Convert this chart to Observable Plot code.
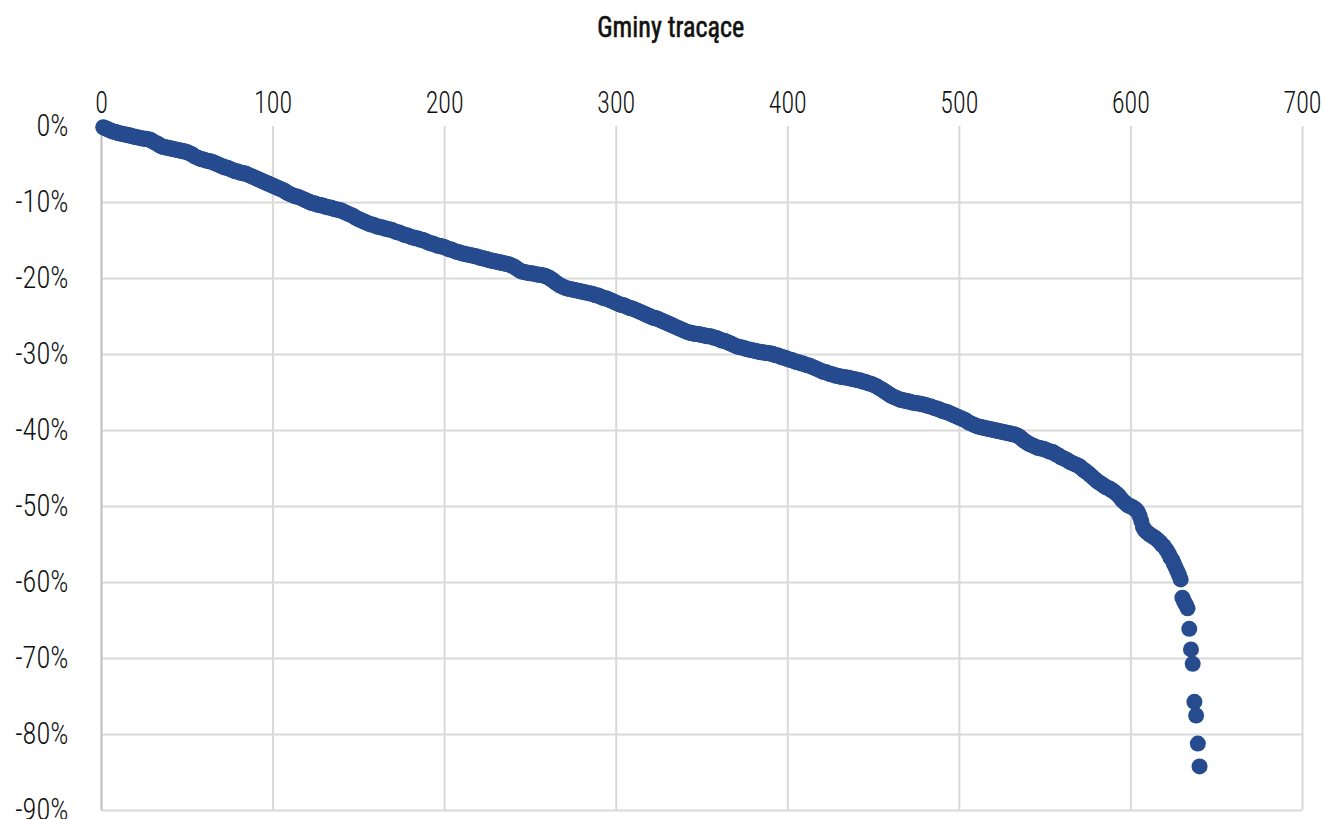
<!DOCTYPE html>
<html>
<head>
<meta charset="utf-8">
<script src="https://cdn.jsdelivr.net/npm/d3@7"></script>
<script src="https://cdn.jsdelivr.net/npm/@observablehq/plot@0.6"></script>
<style>
  html, body { margin: 0; padding: 0; background: #fff; }
  #head { position: relative; width: 1325px; height: 60px; }
  #title {
    position: absolute; left: 0; top: 13px; width: 1342px; text-align: center;
    font-family: "Roboto Condensed", Roboto, "Liberation Sans", sans-serif;
    font-size: 29px; line-height: 29px; color: #111; font-weight: 400;
    -webkit-text-stroke: 0.6px #111;
    white-space: nowrap;
  }
  #title span { display: inline-block; transform: scaleX(0.9); transform-origin: 50% 50%; }
  #chart svg { display: block; }
</style>
</head>
<body>
<div id="head"><div id="title"><span>Gminy tracące</span></div></div>
<div id="chart"></div>
<script>
const xTicks = [0, 100, 200, 300, 400, 500, 600, 700];
const yTicks = [0, -10, -20, -30, -40, -50, -60, -70, -80, -90];
// Percentage change, gminas sorted from smallest to largest loss (rank 1..640)
const losses = [
  -0.1,-0.2,-0.3,-0.4,-0.5,-0.6,-0.7,-0.7,-0.8,-0.9,
  -0.9,-1.0,-1.0,-1.1,-1.1,-1.2,-1.2,-1.3,-1.3,-1.4,
  -1.4,-1.5,-1.5,-1.6,-1.6,-1.6,-1.7,-1.7,-1.8,-2.0,
  -2.1,-2.2,-2.3,-2.5,-2.6,-2.7,-2.7,-2.8,-2.8,-2.9,
  -2.9,-3.0,-3.0,-3.1,-3.1,-3.2,-3.2,-3.3,-3.3,-3.4,
  -3.5,-3.6,-3.7,-3.9,-4.0,-4.1,-4.2,-4.3,-4.3,-4.4,
  -4.5,-4.5,-4.6,-4.6,-4.7,-4.8,-4.9,-5.0,-5.1,-5.2,
  -5.3,-5.4,-5.4,-5.5,-5.6,-5.7,-5.8,-5.9,-5.9,-6.0,
  -6.1,-6.1,-6.2,-6.2,-6.3,-6.4,-6.5,-6.6,-6.7,-6.8,
  -6.9,-7.0,-7.1,-7.2,-7.3,-7.4,-7.5,-7.6,-7.7,-7.8,
  -7.9,-8.0,-8.1,-8.2,-8.3,-8.4,-8.5,-8.7,-8.8,-8.9,
  -9.0,-9.1,-9.2,-9.2,-9.3,-9.4,-9.5,-9.6,-9.7,-9.8,
  -9.9,-10.0,-10.1,-10.1,-10.2,-10.3,-10.3,-10.4,-10.4,-10.5,
  -10.6,-10.6,-10.7,-10.7,-10.8,-10.9,-10.9,-11.0,-11.0,-11.1,
  -11.2,-11.3,-11.4,-11.5,-11.6,-11.7,-11.8,-12.0,-12.1,-12.2,
  -12.3,-12.4,-12.5,-12.6,-12.7,-12.8,-12.9,-12.9,-13.0,-13.1,
  -13.2,-13.2,-13.3,-13.3,-13.4,-13.5,-13.5,-13.6,-13.6,-13.7,
  -13.8,-13.9,-13.9,-14.0,-14.1,-14.2,-14.3,-14.3,-14.4,-14.5,
  -14.6,-14.6,-14.7,-14.7,-14.8,-14.9,-14.9,-15.0,-15.1,-15.2,
  -15.3,-15.4,-15.4,-15.5,-15.6,-15.7,-15.7,-15.8,-15.8,-15.9,
  -16.0,-16.1,-16.2,-16.2,-16.3,-16.4,-16.5,-16.5,-16.6,-16.7,
  -16.7,-16.8,-16.8,-16.9,-16.9,-17.0,-17.0,-17.1,-17.1,-17.2,
  -17.3,-17.3,-17.4,-17.4,-17.5,-17.6,-17.6,-17.7,-17.7,-17.8,
  -17.8,-17.9,-17.9,-18.0,-18.0,-18.1,-18.1,-18.2,-18.3,-18.4,
  -18.5,-18.7,-18.8,-19.0,-19.1,-19.1,-19.2,-19.2,-19.3,-19.3,
  -19.3,-19.4,-19.4,-19.5,-19.5,-19.5,-19.6,-19.6,-19.7,-19.8,
  -19.9,-20.1,-20.2,-20.4,-20.6,-20.7,-20.9,-21.0,-21.1,-21.2,
  -21.3,-21.3,-21.4,-21.4,-21.5,-21.5,-21.6,-21.6,-21.7,-21.7,
  -21.8,-21.8,-21.9,-21.9,-22.0,-22.0,-22.1,-22.2,-22.2,-22.3,
  -22.4,-22.5,-22.6,-22.6,-22.7,-22.8,-22.9,-23.0,-23.1,-23.2,
  -23.3,-23.4,-23.5,-23.5,-23.6,-23.7,-23.8,-23.9,-23.9,-24.0,
  -24.1,-24.2,-24.3,-24.4,-24.5,-24.6,-24.7,-24.8,-24.9,-25.0,
  -25.1,-25.2,-25.2,-25.3,-25.4,-25.5,-25.6,-25.7,-25.8,-25.9,
  -26.0,-26.1,-26.2,-26.3,-26.4,-26.5,-26.6,-26.7,-26.8,-26.9,
  -27.0,-27.1,-27.1,-27.2,-27.2,-27.3,-27.3,-27.3,-27.4,-27.4,
  -27.5,-27.5,-27.6,-27.6,-27.6,-27.7,-27.8,-27.8,-27.9,-28.0,
  -28.1,-28.2,-28.2,-28.3,-28.4,-28.5,-28.6,-28.7,-28.8,-28.9,
  -29.0,-29.0,-29.1,-29.1,-29.2,-29.3,-29.3,-29.4,-29.4,-29.5,
  -29.5,-29.6,-29.6,-29.7,-29.7,-29.7,-29.8,-29.8,-29.8,-29.9,
  -29.9,-30.0,-30.1,-30.1,-30.2,-30.3,-30.4,-30.4,-30.5,-30.6,
  -30.7,-30.7,-30.8,-30.9,-31.0,-31.0,-31.1,-31.2,-31.2,-31.3,
  -31.4,-31.4,-31.5,-31.6,-31.7,-31.8,-31.9,-32.0,-32.1,-32.2,
  -32.3,-32.3,-32.4,-32.5,-32.6,-32.6,-32.7,-32.8,-32.8,-32.9,
  -32.9,-33.0,-33.0,-33.0,-33.1,-33.1,-33.2,-33.2,-33.3,-33.3,
  -33.4,-33.4,-33.5,-33.6,-33.6,-33.7,-33.8,-33.8,-33.9,-34.0,
  -34.1,-34.2,-34.4,-34.5,-34.6,-34.8,-34.9,-35.1,-35.2,-35.4,
  -35.5,-35.6,-35.7,-35.8,-35.9,-36.0,-36.0,-36.1,-36.1,-36.2,
  -36.2,-36.3,-36.3,-36.4,-36.4,-36.4,-36.5,-36.5,-36.6,-36.6,
  -36.7,-36.8,-36.8,-36.9,-37.0,-37.1,-37.1,-37.2,-37.3,-37.4,
  -37.5,-37.5,-37.6,-37.7,-37.8,-37.9,-38.0,-38.1,-38.2,-38.3,
  -38.4,-38.5,-38.6,-38.7,-38.9,-39.0,-39.1,-39.2,-39.3,-39.4,
  -39.5,-39.5,-39.6,-39.6,-39.7,-39.7,-39.8,-39.8,-39.9,-39.9,
  -40.0,-40.0,-40.1,-40.1,-40.2,-40.2,-40.3,-40.3,-40.4,-40.4,
  -40.5,-40.5,-40.6,-40.7,-40.8,-41.0,-41.2,-41.4,-41.5,-41.7,
  -41.8,-41.9,-42.0,-42.1,-42.2,-42.3,-42.3,-42.4,-42.4,-42.5,
  -42.6,-42.7,-42.8,-42.8,-42.9,-43.1,-43.2,-43.3,-43.5,-43.6,
  -43.7,-43.8,-43.9,-44.1,-44.2,-44.3,-44.4,-44.5,-44.6,-44.7,
  -44.9,-45.1,-45.3,-45.4,-45.6,-45.8,-46.0,-46.2,-46.4,-46.6,
  -46.8,-46.9,-47.1,-47.2,-47.4,-47.5,-47.6,-47.7,-47.9,-48.0,
  -48.2,-48.4,-48.6,-48.9,-49.2,-49.4,-49.6,-49.8,-49.9,-50.0,
  -50.1,-50.3,-50.4,-50.7,-51.2,-51.9,-52.7,-53.1,-53.3,-53.5,
  -53.7,-53.8,-54.0,-54.1,-54.3,-54.5,-54.7,-55.0,-55.2,-55.5,
  -55.8,-56.2,-56.7,-57.0,-57.5,-58.0,-58.5,-59.0,-59.6,-62.0,
  -62.5,-62.9,-63.4,-66.1,-68.8,-70.7,-75.7,-77.5,-81.2,-84.2
];

const data = losses.map((v, i) => ({rank: i + 1, change: v}));
const fontStack = '"Roboto Condensed", Roboto, "Liberation Sans", sans-serif';

const chart = Plot.plot({
  width: 1325,
  height: 759,
  marginTop: 66,
  marginBottom: 9,
  marginLeft: 101,
  marginRight: 23,
  style: {fontFamily: fontStack, color: "#111", background: "#fff", overflow: "visible"},
  x: {domain: [0, 700], axis: null},
  y: {domain: [-90, 0], axis: null},
  marks: [
    Plot.gridY(yTicks.filter(d => d !== 0), {stroke: "#d9d9d9", strokeOpacity: 1, strokeWidth: 2}),
    Plot.gridX(xTicks.filter(d => d !== 0), {stroke: "#d9d9d9", strokeOpacity: 1, strokeWidth: 2}),
    Plot.ruleX([0], {stroke: "#bdbdbd", strokeWidth: 2}),
    Plot.axisX({anchor: "top", ticks: xTicks, tickSize: 0, tickPadding: 14, fontSize: 31, fontWeight: 300, label: null, tickFormat: d => String(d), fill: "#111"}),
    Plot.axisY({anchor: "left", ticks: yTicks, tickSize: 0, tickPadding: 33, fontSize: 31, fontWeight: 300, label: null, tickFormat: d => `${d}%`, fill: "#111"}),
    Plot.dot(data, {x: "rank", y: "change", r: 8, fill: "#264b8f", stroke: "none"})
  ]
});
// condense the tick labels horizontally (narrow typeface look)
chart.querySelectorAll('g[aria-label="x-axis tick label"] text').forEach(t => {
  t.setAttribute("transform", (t.getAttribute("transform") || "") + " scale(0.84,1)");
});
chart.querySelectorAll('g[aria-label="y-axis tick label"] text').forEach(t => {
  t.setAttribute("transform", (t.getAttribute("transform") || "") + " scale(0.92,1)");
});
document.getElementById("chart").appendChild(chart);
</script>
</body>
</html>
